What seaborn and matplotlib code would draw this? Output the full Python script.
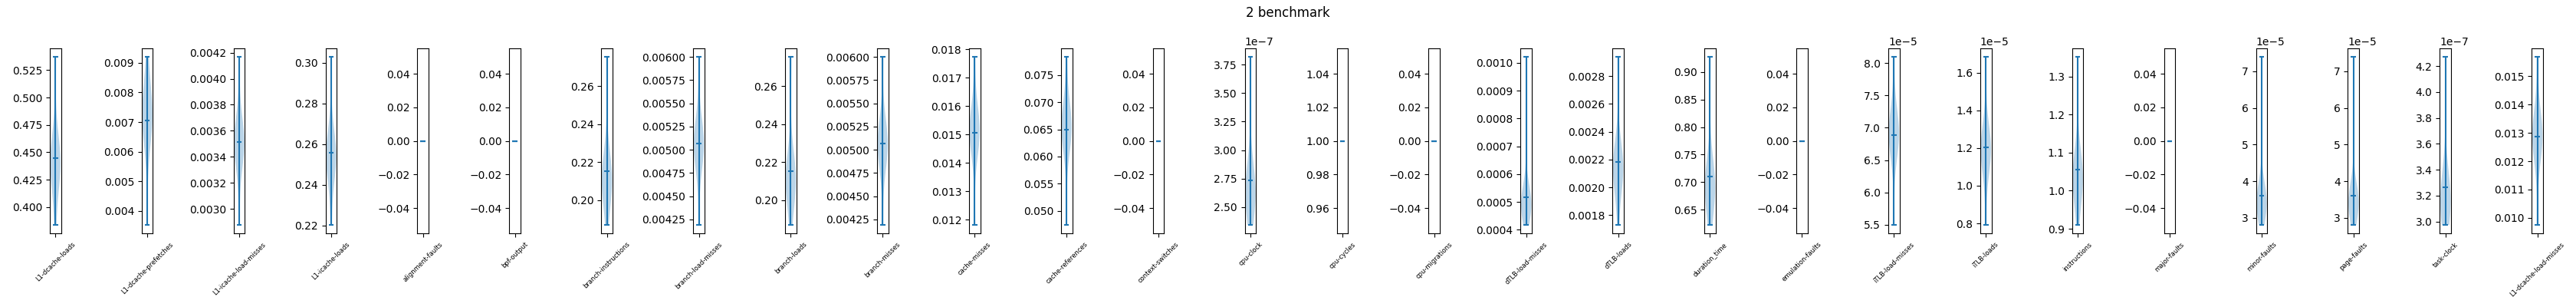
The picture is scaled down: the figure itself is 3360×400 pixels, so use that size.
import numpy as np
import matplotlib
matplotlib.use("Agg")
import matplotlib.pyplot as plt
import seaborn as sns
from matplotlib import cbook, mlab

# per-metric samples for benchmark 2
metrics = ["L1-dcache-loads", "L1-dcache-prefetches", "L1-icache-load-misses", "L1-icache-loads",
           "alignment-faults", "bpf-output", "branch-instructions", "branch-load-misses",
           "branch-loads", "branch-misses", "cache-misses", "cache-references",
           "context-switches", "cpu-clock", "cpu-cycles", "cpu-migrations",
           "dTLB-load-misses", "dTLB-loads", "duration_time", "emulation-faults",
           "iTLB-load-misses", "iTLB-loads", "instructions", "major-faults",
           "minor-faults", "page-faults", "task-clock", "L1-dcache-load-misses"]

l1_dcache_loads = [0.3836, 0.4247, 0.4311, 0.4359, 0.4391, 0.4423, 0.4455, 0.4503, 0.4567, 0.5370]
l1_dcache_prefetches = [0.00352, 0.00642, 0.00674, 0.00698, 0.00714, 0.00730, 0.00746, 0.00770, 0.00802, 0.00920]
l1_icache_load_misses = [0.002876, 0.003448, 0.003472, 0.003490, 0.003502, 0.003514, 0.003526, 0.003544, 0.003568, 0.004167]
l1_icache_loads = [0.2202, 0.2502, 0.2518, 0.2530, 0.2538, 0.2546, 0.2554, 0.2566, 0.2582, 0.3029]
alignment_faults = [0, 0, 0, 0, 0, 0, 0, 0, 0, 0]
bpf_output = [0, 0, 0, 0, 0, 0, 0, 0, 0, 0]
branch_instructions = [0.1869, 0.2072, 0.2088, 0.2100, 0.2108, 0.2116, 0.2124, 0.2136, 0.2152, 0.2754]
branch_load_misses = [0.00419, 0.004980, 0.005012, 0.005036, 0.005052, 0.005068, 0.005084, 0.005108, 0.005140, 0.00600]
branch_loads = [0.1869, 0.2072, 0.2088, 0.2100, 0.2108, 0.2116, 0.2124, 0.2136, 0.2152, 0.2754]
branch_misses = [0.00419, 0.004980, 0.005012, 0.005036, 0.005052, 0.005068, 0.005084, 0.005108, 0.005140, 0.00600]
cache_misses = [0.01182, 0.01493, 0.01501, 0.01507, 0.01511, 0.01515, 0.01519, 0.01525, 0.01533, 0.01773]
cache_references = [0.0474, 0.06441, 0.06481, 0.06511, 0.06531, 0.06551, 0.06571, 0.06601, 0.06641, 0.07835]
context_switches = [0, 0, 0, 0, 0, 0, 0, 0, 0, 0]
cpu_clock = [2.3426e-7, 2.6045e-7, 2.6205e-7, 2.6325e-7, 2.6405e-7, 2.6485e-7, 2.6565e-7, 2.6685e-7, 2.6845e-7, 3.8174e-7]
cpu_cycles = [1, 1, 1, 1, 1, 1, 1, 1, 1, 1]
cpu_migrations = [0, 0, 0, 0, 0, 0, 0, 0, 0, 0]
dtlb_load_misses = [0.0004175, 0.0004654, 0.0004694, 0.0004734, 0.0004764, 0.0004794, 0.0004824,
                    0.0004854, 0.0004884, 0.0004914, 0.0004954, 0.0004984, 0.0005014, 0.0005044,
                    0.0005074, 0.0005104, 0.0005134, 0.0005174, 0.0005214, 0.001021]
dtlb_loads = [0.00173, 0.002103, 0.002119, 0.002131, 0.002139, 0.002147, 0.002155, 0.002167, 0.002183, 0.002938]
duration_time = [0.6221, 0.6858, 0.6890, 0.6914, 0.6930, 0.6946, 0.6962, 0.6986, 0.7018, 0.9275]
emulation_faults = [0, 0, 0, 0, 0, 0, 0, 0, 0, 0]
itlb_load_misses = [5.496e-5, 6.830e-5, 6.862e-5, 6.886e-5, 6.902e-5, 6.918e-5, 6.934e-5, 6.958e-5, 6.990e-5, 8.095e-5]
itlb_loads = [0.7918e-5, 1.1732e-5, 1.1812e-5, 1.1872e-5, 1.1912e-5, 1.1952e-5, 1.1992e-5, 1.2052e-5, 1.2132e-5, 1.683e-5]
instructions = [0.910, 1.0165, 1.0245, 1.0305, 1.0345, 1.0385, 1.0425, 1.0485, 1.0565, 1.351]
major_faults = [0, 0, 0, 0, 0, 0, 0, 0, 0, 0]
minor_faults = [2.804e-5, 3.147e-5, 3.187e-5, 3.227e-5, 3.257e-5, 3.287e-5, 3.317e-5, 3.347e-5, 3.377e-5,
                3.407e-5, 3.447e-5, 3.477e-5, 3.507e-5, 3.537e-5, 3.567e-5, 3.597e-5, 3.627e-5, 3.667e-5,
                3.707e-5, 7.392e-5]
page_faults = [2.804e-5, 3.147e-5, 3.187e-5, 3.227e-5, 3.257e-5, 3.287e-5, 3.317e-5, 3.347e-5, 3.377e-5,
               3.407e-5, 3.447e-5, 3.477e-5, 3.507e-5, 3.537e-5, 3.567e-5, 3.597e-5, 3.627e-5, 3.667e-5,
               3.707e-5, 7.392e-5]
task_clock = [2.974e-7, 3.1356e-7, 3.1516e-7, 3.1636e-7, 3.1716e-7, 3.1796e-7, 3.1876e-7, 3.1996e-7, 3.2156e-7, 4.271e-7]
l1_dcache_load_misses = [0.00975, 0.012493, 0.012653, 0.012773, 0.012853, 0.012933, 0.013013, 0.013133, 0.013293, 0.01568]

samples = [l1_dcache_loads, l1_dcache_prefetches, l1_icache_load_misses, l1_icache_loads,
           alignment_faults, bpf_output, branch_instructions, branch_load_misses,
           branch_loads, branch_misses, cache_misses, cache_references,
           context_switches, cpu_clock, cpu_cycles, cpu_migrations,
           dtlb_load_misses, dtlb_loads, duration_time, emulation_faults,
           itlb_load_misses, itlb_loads, instructions, major_faults,
           minor_faults, page_faults, task_clock, l1_dcache_load_misses]


def kde_method(x, coords):
    # constant series (e.g. all-zero fault counters) have no spread to estimate
    if np.ptp(x) == 0:
        return np.ones_like(coords)
    return mlab.GaussianKDE(x, "scott").evaluate(coords)


color = sns.color_palette("tab10")[0]

fig, axes = plt.subplots(1, len(metrics), figsize=(33.6, 4), dpi=100)
fig.subplots_adjust(left=0.0193, right=0.9872, top=0.8417, bottom=0.24, wspace=7.16)

for ax, name, vals in zip(axes, metrics, samples):
    vals = np.asarray(vals, dtype=float)
    stats = cbook.violin_stats([vals], kde_method)
    parts = ax.violin(stats, positions=[1], widths=0.5, showmeans=True, showextrema=True)
    for body in parts["bodies"]:
        body.set_facecolor(color)
        body.set_edgecolor("none")
        body.set_alpha(0.3)
        if np.ptp(vals) == 0:
            body.set_visible(False)
    for key in ("cmaxes", "cmins", "cbars", "cmeans"):
        parts[key].set_color(color)
        parts[key].set_linewidth(1.5)
    ax.set_xticks([1])
    ax.set_xticklabels([name], rotation=45, fontsize=6)

fig.suptitle("2 benchmark", fontsize=12)
fig.savefig("out.png", dpi=100)
plt.close(fig)
